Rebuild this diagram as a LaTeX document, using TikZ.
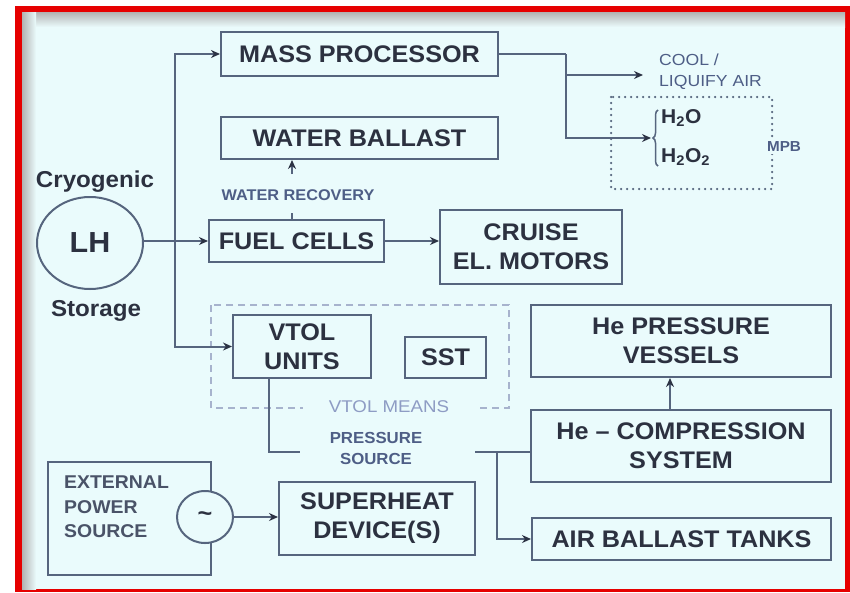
\documentclass[tikz,border=0pt]{standalone}
\usepackage{fontspec}
\usetikzlibrary{arrows.meta,decorations.pathreplacing,shapes.geometric}
\newfontfamily\dfont[FakeStretch=1.1]{Liberation Sans}
\newfontfamily\bfont[FakeStretch=1.05]{Liberation Sans}
\definecolor{bgc}{HTML}{EAFBFC}
\definecolor{redc}{HTML}{E60000}
\definecolor{linec}{HTML}{56657E}
\definecolor{tipc}{HTML}{2C3344}
\definecolor{txtc}{HTML}{2C3140}
\definecolor{lblc}{HTML}{4E5E86}
\definecolor{lbltwo}{HTML}{8E9CC4}
\definecolor{dashc}{HTML}{A7B3CD}
\definecolor{extc}{HTML}{4A5368}
\begin{document}
\begin{tikzpicture}[x=1pt,y=-1pt,
  blk/.style={draw=linec, line width=2pt, text=txtc, align=center, inner sep=0pt,
    font=\bfont\bfseries\fontsize{24}{29}\selectfont},
  arr/.style={draw=linec, line width=2pt, -{Stealth[length=9pt,width=8pt,color=tipc]}},
  ln/.style={draw=linec, line width=2pt},
  smalllbl/.style={text=lblc, inner sep=1pt, align=center},
]
\useasboundingbox (0,0) rectangle (850,592);
% frame and background
\fill[white] (0,0) rectangle (850,592);
\fill[redc] (15,6) rectangle (850,592);
\fill[bgc] (22,12) rectangle (845,589);
\shade[top color=black!30, bottom color=bgc] (22,12) rectangle (845,27);
\shade[left color=black!30, right color=bgc] (22,12) rectangle (36,589);

% groups
\draw[dashc, line width=1.6pt, dash pattern=on 7pt off 5pt] (211,305) rectangle (509,408);
\draw[linec, line width=2.5pt, line cap=round, dash pattern=on 0pt off 6pt] (611,97) rectangle (772,189);

% boxes
\node[blk, minimum width=277, minimum height=44] (mass) at (359.5,54) {MASS PROCESSOR};
\node[blk, minimum width=277, minimum height=42] (ballast) at (359.5,138) {WATER BALLAST};
\node[blk, minimum width=175, minimum height=42] (fuel) at (296.5,241) {FUEL CELLS};
\node[blk, minimum width=182, minimum height=74] (cruise) at (531,247) {CRUISE\\EL. MOTORS};
\node[blk, minimum width=138, minimum height=63] (vtol) at (302,346.5) {VTOL\\UNITS};
\node[blk, minimum width=81, minimum height=41] (sst) at (445.5,357.5) {SST};
\node[blk, minimum width=300, minimum height=72] (hepv) at (681,341) {He PRESSURE\\VESSELS};
\node[blk, minimum width=300, minimum height=72] (hecomp) at (681,446) {He \textendash{} COMPRESSION\\SYSTEM};
\node[blk, minimum width=299, minimum height=42] (air) at (681.5,539) {AIR BALLAST TANKS};
\node[blk, minimum width=196, minimum height=73] (sh) at (377,518.5) {SUPERHEAT\\DEVICE(S)};
\node[blk, minimum width=163, minimum height=113] (ext) at (129.5,518.5) {};
\node[anchor=west, align=left, text=extc, inner sep=0pt,
  font=\bfont\bfseries\fontsize{18.5}{24.5}\selectfont] (extt) at (64,507) {EXTERNAL\\POWER\\SOURCE};
\node[ellipse, draw=linec, line width=2pt, fill=bgc, minimum width=56, minimum height=52,
  inner sep=0pt, text=txtc, font=\bfont\bfseries\fontsize{24}{29}\selectfont] (ac) at (205,517) {\textasciitilde};

% LH storage
\node[ellipse, draw=linec, line width=2pt, minimum width=106, minimum height=92, inner sep=0pt,
  text=txtc, font=\bfont\bfseries\fontsize{29}{34}\selectfont] (lh) at (90,243) {LH};
\node[text=txtc, font=\bfont\bfseries\fontsize{23}{28}\selectfont] (cryo) at (95,182) {Cryogenic};
\node[text=txtc, font=\bfont\bfseries\fontsize{23}{28}\selectfont] (stor) at (96,311) {Storage};

% labels
\node[smalllbl, anchor=west, align=left, font=\dfont\fontsize{16}{21}\selectfont] (cool) at (658,72) {COOL /\\LIQUIFY AIR};
\node[text=txtc, anchor=west, inner sep=0pt, font=\bfont\bfseries\fontsize{20}{24}\selectfont] (h2o) at (661,118) {H\textsubscript{2}O};
\node[text=txtc, anchor=west, inner sep=0pt, font=\bfont\bfseries\fontsize{20}{24}\selectfont] (h2o2) at (661,157) {H\textsubscript{2}O\textsubscript{2}};
\node[smalllbl, fill=bgc, inner sep=2pt, font=\bfont\bfseries\fontsize{14.5}{17}\selectfont] (mpb) at (784,147) {MPB};
\node[smalllbl, font=\bfont\bfseries\fontsize{15.5}{20}\selectfont] (wr) at (298,195) {WATER RECOVERY};
\node[smalllbl, font=\bfont\bfseries\fontsize{16}{21}\selectfont] (ps) at (376,448) {PRESSURE\\SOURCE};
\node[text=lbltwo, fill=bgc, inner xsep=26pt, inner ysep=2pt, font=\dfont\fontsize{17}{20}\selectfont] (vm) at (389,407) {VTOL MEANS};

% brace
\draw[linec, line width=1.5pt, decorate, decoration={brace, amplitude=5pt}] (658,166) -- (658,110);

% coordinates
\coordinate (trk) at (175,200);
\coordinate (br) at (566,54);
\coordinate (coolin) at (643,75);
\coordinate (bracein) at (651,138);
\coordinate (wa) at (292,174);
\coordinate (wb) at (292,213);
\coordinate (psl) at (300,452);
\coordinate (psr) at (475,452);
\coordinate (jn) at (497,452);

% connectors
\draw[arr] (trk) |- (mass.west);
\draw[arr] (trk) |- (vtol.west);
\draw[arr] (lh.east |- fuel.west) -- (fuel.west);
\draw[ln] (mass.east |- br) -- (br);
\draw[arr] (br) |- (coolin);
\draw[arr] (br) |- (bracein);
\draw[arr] (wa) -- (wa |- ballast.south);
\draw[ln] (wb) -- (wb |- fuel.north);
\draw[arr] (fuel.east) -- (fuel.east -| cruise.west);
\draw[ln] ([xshift=-33pt]vtol.south) |- (psl);
\draw[ln] (psr) -- (psr -| hecomp.west);
\draw[arr] (jn) |- (air.west);
\draw[arr] ([xshift=-11pt]hecomp.north) -- ([xshift=-11pt]hepv.south);
\draw[arr] (ac.east) -- (ac.east -| sh.west);
\end{tikzpicture}
\end{document}
